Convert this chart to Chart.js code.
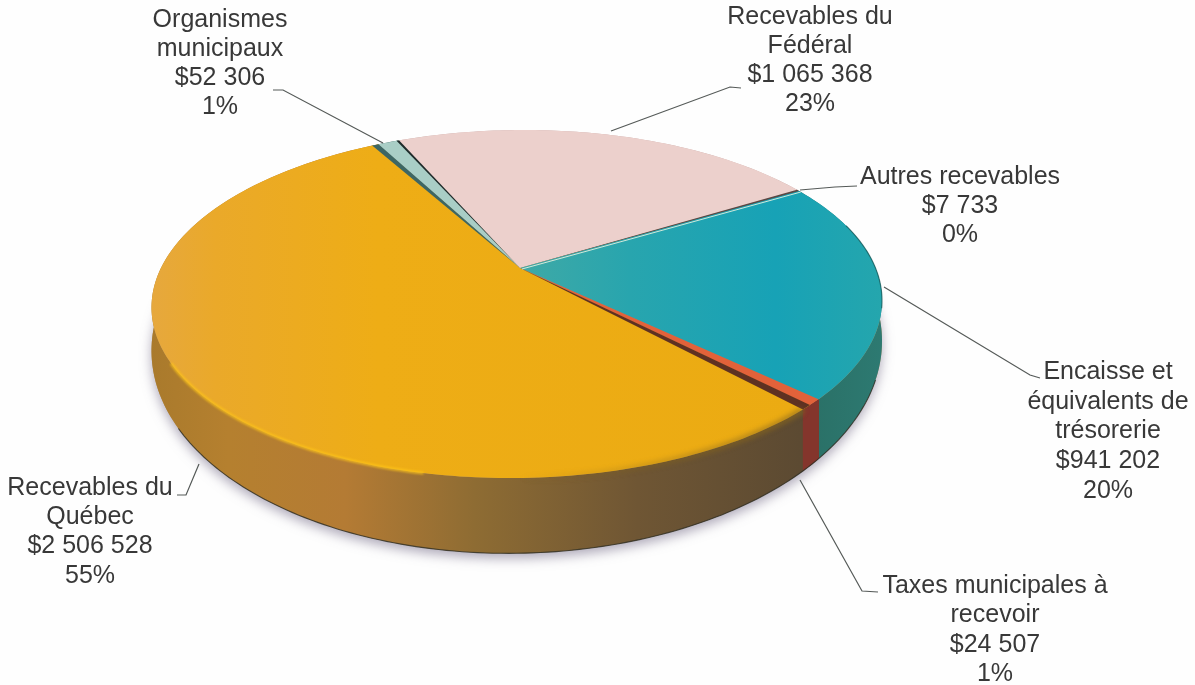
<!DOCTYPE html>
<html lang="fr">
<head>
<meta charset="utf-8">
<style>html,body{margin:0;padding:0;background:#fefefe}canvas{display:block}</style>
<script src="https://cdn.jsdelivr.net/npm/chart.js@4"></script>
</head>
<body>
<canvas id="c" width="1195" height="685"></canvas>
<script>
// ---- data ----
const categories = ["Recevables du Québec","Organismes municipaux","Recevables du Fédéral","Autres recevables","Encaisse et équivalents de trésorerie","Taxes municipales à recevoir"];
const values = [2506528, 52306, 1065368, 7733, 941202, 24507];
const amountLabels = ["$2 506 528","$52 306","$1 065 368","$7 733","$941 202","$24 507"];
const percentLabels = ["55%","1%","23%","0%","20%","1%"];
const nameLines = [["Recevables du","Québec"],["Organismes","municipaux"],["Recevables du","Fédéral"],["Autres recevables"],["Encaisse et","équivalents de","trésorerie"],["Taxes municipales à","recevoir"]];

// ---- styles and layout ----
const topColors = ["#eeac14","#a9cec6","#ecd0cc","#5a4844","#1ca3b4","#e2623a"];
const labelCentres = [[90,488],[220,20],[810,17],[960,177],[1108,372],[995,586]];
const lineHeights = [29.3,29,29,29,29.7,29.5];
const leaders = [
  [[177,495],[186,495],[199,464]],
  [[273,90],[283,90],[383,143]],
  [[741,88],[730,87],[611,131]],
  [[857,186],[835,187],[800,190]],
  [[1040,378],[1030,375],[884,287]],
  [[878,592],[862,591],[800,480]]
];
const X0=520, Y0=268, A=357, B=166.5, K=-0.207, S=-15, T=4;
const rad = d => d*Math.PI/180;
function P(t){
  const u=Math.cos(t), v=Math.sin(t), w=1+K*v, U=u/w, V=v/w;
  return {x:X0+A*U+S*V, y:Y0+B*V+T*U, V};
}
function Low(t){const p=P(t); return {x:p.x, y:p.y+35+32*p.V};}
function rim(ctx,a,b,fn,first){
  const n=Math.max(2,Math.ceil(Math.abs(b-a)/rad(1)));
  for(let i=0;i<=n;i++){const p=fn(a+(b-a)*i/n); (first&&i===0)?ctx.moveTo(p.x,p.y):ctx.lineTo(p.x,p.y);}
}
function wedge(ctx,a,b,fill){
  ctx.beginPath(); ctx.moveTo(X0,Y0); rim(ctx,a,b,P,false); ctx.closePath();
  ctx.fillStyle=fill; ctx.fill();
}
function wall(ctx,a,b,fill){
  ctx.beginPath(); rim(ctx,a,b,P,true); rim(ctx,b,a,Low,false); ctx.closePath();
  ctx.fillStyle=fill; ctx.fill();
}
function hGrad(ctx,stops,x0,x1){
  const g=ctx.createLinearGradient(x0,0,x1,0);
  stops.forEach(s=>g.addColorStop(s[0],s[1]));
  return g;
}
const pie3d = {
  id:'pie3d',
  beforeDraw(chart){
    const c=chart.ctx; c.save(); c.fillStyle='#fefefe'; c.fillRect(0,0,chart.width,chart.height); c.restore();
  },
  beforeDatasetsDraw(chart){
    const ctx=chart.ctx, arcs=chart.getDatasetMeta(0).data;
    const wallYellow=hGrad(ctx,[[0,'#a97a2c'],[0.12,'#b5802f'],[0.3,'#b47b34'],[0.5,'#8e6c33'],[0.75,'#6f5634'],[1,'#5c4a32']],150,800);
    const wallTeal=hGrad(ctx,[[0,'#2a6f65'],[1,'#2d7a72']],800,885);
    const wallFills=[wallYellow,'#3f6a66','#c9a9a6','#5a4844',wallTeal,'#84352c'];
    const topYellow=hGrad(ctx,[[0,'#e6a83e'],[0.1,'#eaa92a'],[0.35,'#eead16'],[1,'#ebab12']],150,800);
    const topTeal=hGrad(ctx,[[0,'#3fa9a6'],[0.3,'#28a5ae'],[0.7,'#17a2b6'],[1,'#25a6ad']],520,885);
    const topFills=[topYellow,topColors[1],topColors[2],topColors[3],topTeal,topColors[5]];

    ctx.save();
    // soft shadow under the disc
    ctx.save();
    ctx.shadowColor='rgba(110,100,130,0.55)'; ctx.shadowBlur=12; ctx.shadowOffsetY=5;
    ctx.beginPath(); rim(ctx,0,2*Math.PI,Low,true); ctx.closePath(); ctx.fillStyle='#b09060'; ctx.fill();
    ctx.restore();

    // side walls
    arcs.forEach((arc,i)=>wall(ctx,arc.startAngle-0.004,arc.endAngle+0.004,wallFills[i]));
    const tax=arcs[5], que=arcs[0], org=arcs[1];
    wall(ctx,tax.startAngle,tax.endAngle+rad(1.6),wallFills[5]);
    // dark base edge
    ctx.beginPath(); rim(ctx,rad(20),rad(145),Low,true);
    ctx.strokeStyle='rgba(45,45,35,0.8)'; ctx.lineWidth=1.1; ctx.stroke();

    // blurred seam on the right of the yellow wall
    ctx.save();
    ctx.filter='blur(2.5px)';
    ctx.beginPath(); rim(ctx,que.startAngle+rad(1.6),rad(100),P,true);
    ctx.strokeStyle=hGrad(ctx,[[0,'rgba(125,95,35,0)'],[1,'rgba(125,95,35,0.75)']],520,790); ctx.lineWidth=7; ctx.stroke();
    ctx.restore();

    // top faces
    arcs.forEach((arc,i)=>wedge(ctx,arc.startAngle-0.002,arc.endAngle+0.002,topFills[i]));
    // raised thin slices: dark inner walls
    wedge(ctx,tax.endAngle,tax.endAngle+rad(1.6),'#5e3122');
    wedge(ctx,org.startAngle-rad(1.3),org.startAngle,'#3d6664');
    wedge(ctx,org.endAngle-rad(0.45),org.endAngle+rad(0.1),'#1f2b2a');
    // light line under the Fédéral / Autres seam
    ctx.beginPath(); const s=P(arcs[3].endAngle+rad(0.35));
    ctx.moveTo(X0+2,Y0+1); ctx.lineTo(s.x,s.y); ctx.strokeStyle='rgba(240,245,225,0.85)'; ctx.lineWidth=1; ctx.stroke();

    // blurred seam on the yellow face, right of centre
    ctx.save();
    ctx.filter='blur(2.5px)';
    ctx.beginPath(); rim(ctx,que.startAngle+rad(1.6),rad(100),P,true);
    ctx.strokeStyle=hGrad(ctx,[[0,'rgba(125,95,35,0)'],[1,'rgba(125,95,35,0.6)']],520,790); ctx.lineWidth=5; ctx.stroke();
    // soft highlight where the top meets the wall
    ctx.beginPath(); rim(ctx,rad(100),rad(148),P,true);
    ctx.strokeStyle='rgba(255,198,24,0.75)'; ctx.lineWidth=3; ctx.filter='blur(1px)'; ctx.stroke();
    ctx.restore();
    // dark rim on the teal face
    ctx.beginPath(); rim(ctx,rad(-17),rad(12),P,true);
    ctx.strokeStyle='rgba(20,85,85,0.7)'; ctx.lineWidth=1.2; ctx.stroke();
    ctx.restore();
    return false;
  },
  afterDraw(chart){
    const ctx=chart.ctx;
    ctx.save();
    // leader lines
    ctx.strokeStyle='#555a58'; ctx.lineWidth=1.2;
    leaders.forEach(l=>{ctx.beginPath(); l.forEach((p,i)=>i?ctx.lineTo(p[0],p[1]):ctx.moveTo(p[0],p[1])); ctx.stroke();});
    // labels
    ctx.fillStyle='#383838'; ctx.font='25px "Liberation Sans", Arial, sans-serif';
    ctx.textAlign='center'; ctx.textBaseline='middle';
    categories.forEach((c,i)=>{
      const lines=[...nameLines[i],amountLabels[i],percentLabels[i]];
      lines.forEach((t,j)=>ctx.fillText(t,labelCentres[i][0],labelCentres[i][1]+j*lineHeights[i]));
    });
    ctx.restore();
  }
};
new Chart(document.getElementById('c'),{
  type:'pie',
  data:{labels:categories,datasets:[{data:values,backgroundColor:topColors,borderWidth:0}]},
  options:{
    responsive:false,animation:false,rotation:133.5,
    layout:{padding:0},
    plugins:{legend:{display:false},tooltip:{enabled:false}}
  },
  plugins:[pie3d]
});
</script>
</body>
</html>
